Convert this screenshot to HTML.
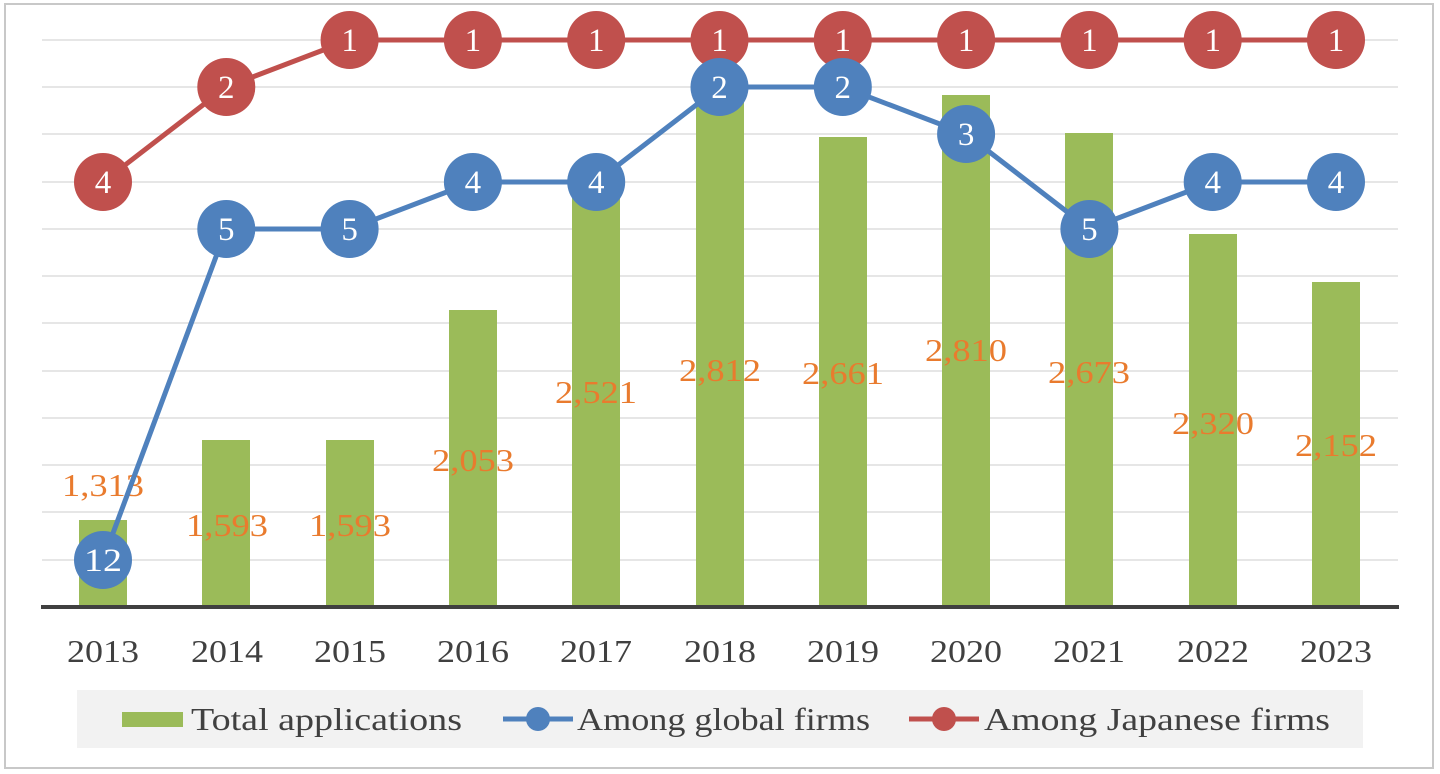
<!DOCTYPE html>
<html><head><meta charset="utf-8"><style>
html,body{margin:0;padding:0;background:#fff;}
svg{display:block;font-family:"Liberation Serif",serif;}
</style></head><body>
<svg width="1440" height="774" viewBox="0 0 1440 774" xmlns="http://www.w3.org/2000/svg">
<rect x="5" y="4" width="1428" height="764" fill="#fff" stroke="#c8c8c8" stroke-width="2"/>
<g stroke="#dedede" stroke-width="1.6">
<line x1="42" x2="1398" y1="40" y2="40"/><line x1="42" x2="1398" y1="87" y2="87"/>
<line x1="42" x2="1398" y1="134" y2="134"/><line x1="42" x2="1398" y1="182" y2="182"/>
<line x1="42" x2="1398" y1="229" y2="229"/><line x1="42" x2="1398" y1="276" y2="276"/>
<line x1="42" x2="1398" y1="323" y2="323"/><line x1="42" x2="1398" y1="371" y2="371"/>
<line x1="42" x2="1398" y1="418" y2="418"/><line x1="42" x2="1398" y1="465" y2="465"/>
<line x1="42" x2="1398" y1="512" y2="512"/><line x1="42" x2="1398" y1="560" y2="560"/>
</g>
<g fill="#9BBB59">
<rect x="79" y="520" width="48" height="87"/>
<rect x="202" y="440" width="48" height="167"/>
<rect x="326" y="440" width="48" height="167"/>
<rect x="449" y="310" width="48" height="297"/>
<rect x="572" y="190" width="48" height="417"/>
<rect x="696" y="95" width="48" height="512"/>
<rect x="819" y="137" width="48" height="470"/>
<rect x="942" y="95" width="48" height="512"/>
<rect x="1065" y="133" width="48" height="474"/>
<rect x="1189" y="234" width="48" height="373"/>
<rect x="1312" y="282" width="48" height="325"/>
</g>
<line x1="41" x2="1399" y1="607" y2="607" stroke="#404040" stroke-width="4"/>
<g fill="#E97B2E" font-size="32" text-anchor="middle" lengthAdjust="spacingAndGlyphs">
<text x="103" y="496" textLength="82" lengthAdjust="spacingAndGlyphs">1,313</text><text x="227" y="536" textLength="82" lengthAdjust="spacingAndGlyphs">1,593</text>
<text x="350" y="536" textLength="82" lengthAdjust="spacingAndGlyphs">1,593</text><text x="473" y="471" textLength="82" lengthAdjust="spacingAndGlyphs">2,053</text>
<text x="596" y="403" textLength="82" lengthAdjust="spacingAndGlyphs">2,521</text><text x="720" y="381" textLength="82" lengthAdjust="spacingAndGlyphs">2,812</text>
<text x="843" y="384" textLength="82" lengthAdjust="spacingAndGlyphs">2,661</text><text x="966" y="361" textLength="82" lengthAdjust="spacingAndGlyphs">2,810</text>
<text x="1089" y="383" textLength="82" lengthAdjust="spacingAndGlyphs">2,673</text><text x="1213" y="434" textLength="82" lengthAdjust="spacingAndGlyphs">2,320</text>
<text x="1336" y="456" textLength="82" lengthAdjust="spacingAndGlyphs">2,152</text>
</g>
<polyline fill="none" stroke="#C0504D" stroke-width="5" points="103,182 226.3,87 349.6,40 472.9,40 596.2,40 719.5,40 842.8,40 966.1,40 1089.4,40 1212.7,40 1336,40"/>
<polyline fill="none" stroke="#4F81BD" stroke-width="5" points="103,560 226.3,229 349.6,229 472.9,182 596.2,182 719.5,87 842.8,87 966.1,134 1089.4,229 1212.7,182 1336,182"/>
<g fill="#C0504D">
<circle cx="103" cy="182" r="29"/><circle cx="226.3" cy="87" r="29"/><circle cx="349.6" cy="40" r="29"/>
<circle cx="472.9" cy="40" r="29"/><circle cx="596.2" cy="40" r="29"/><circle cx="719.5" cy="40" r="29"/>
<circle cx="842.8" cy="40" r="29"/><circle cx="966.1" cy="40" r="29"/><circle cx="1089.4" cy="40" r="29"/>
<circle cx="1212.7" cy="40" r="29"/><circle cx="1336" cy="40" r="29"/>
</g>
<g fill="#4F81BD">
<circle cx="103" cy="560" r="29"/><circle cx="226.3" cy="229" r="29"/><circle cx="349.6" cy="229" r="29"/>
<circle cx="472.9" cy="182" r="29"/><circle cx="596.2" cy="182" r="29"/><circle cx="719.5" cy="87" r="29"/>
<circle cx="842.8" cy="87" r="29"/><circle cx="966.1" cy="134" r="29"/><circle cx="1089.4" cy="229" r="29"/>
<circle cx="1212.7" cy="182" r="29"/><circle cx="1336" cy="182" r="29"/>
</g>
<g fill="#fff" font-size="33" text-anchor="middle">
<text x="103" y="193">4</text><text x="226.3" y="98">2</text><text x="349.6" y="51">1</text>
<text x="472.9" y="51">1</text><text x="596.2" y="51">1</text><text x="719.5" y="51">1</text>
<text x="842.8" y="51">1</text><text x="966.1" y="51">1</text><text x="1089.4" y="51">1</text>
<text x="1212.7" y="51">1</text><text x="1336" y="51">1</text>
<text x="103" y="571" textLength="38" lengthAdjust="spacingAndGlyphs">12</text><text x="226.3" y="240">5</text><text x="349.6" y="240">5</text>
<text x="472.9" y="193">4</text><text x="596.2" y="193">4</text><text x="719.5" y="98">2</text>
<text x="842.8" y="98">2</text><text x="966.1" y="145">3</text><text x="1089.4" y="240">5</text>
<text x="1212.7" y="193">4</text><text x="1336" y="193">4</text>
</g>
<g fill="#404040" font-size="32" text-anchor="middle">
<text x="103" y="662" textLength="72" lengthAdjust="spacingAndGlyphs">2013</text><text x="227" y="662" textLength="72" lengthAdjust="spacingAndGlyphs">2014</text><text x="350" y="662" textLength="72" lengthAdjust="spacingAndGlyphs">2015</text>
<text x="473" y="662" textLength="72" lengthAdjust="spacingAndGlyphs">2016</text><text x="596" y="662" textLength="72" lengthAdjust="spacingAndGlyphs">2017</text><text x="720" y="662" textLength="72" lengthAdjust="spacingAndGlyphs">2018</text>
<text x="843" y="662" textLength="72" lengthAdjust="spacingAndGlyphs">2019</text><text x="966" y="662" textLength="72" lengthAdjust="spacingAndGlyphs">2020</text><text x="1089" y="662" textLength="72" lengthAdjust="spacingAndGlyphs">2021</text>
<text x="1213" y="662" textLength="72" lengthAdjust="spacingAndGlyphs">2022</text><text x="1336" y="662" textLength="72" lengthAdjust="spacingAndGlyphs">2023</text>
</g>
<rect x="77" y="690" width="1286" height="58" fill="#f2f2f2"/>
<rect x="122" y="712" width="61" height="15" fill="#9BBB59"/>
<g fill="#404040" font-size="32">
<text x="191" y="730" textLength="271" lengthAdjust="spacingAndGlyphs">Total applications</text>
<text x="577" y="730" textLength="293" lengthAdjust="spacingAndGlyphs">Among global firms</text>
<text x="984" y="730" textLength="346" lengthAdjust="spacingAndGlyphs">Among Japanese firms</text>
</g>
<line x1="503" x2="573" y1="719" y2="719" stroke="#4F81BD" stroke-width="5"/>
<circle cx="538" cy="719" r="12" fill="#4F81BD"/>
<line x1="909" x2="979" y1="719" y2="719" stroke="#C0504D" stroke-width="5"/>
<circle cx="944" cy="719" r="12" fill="#C0504D"/>
</svg>
</body></html>
